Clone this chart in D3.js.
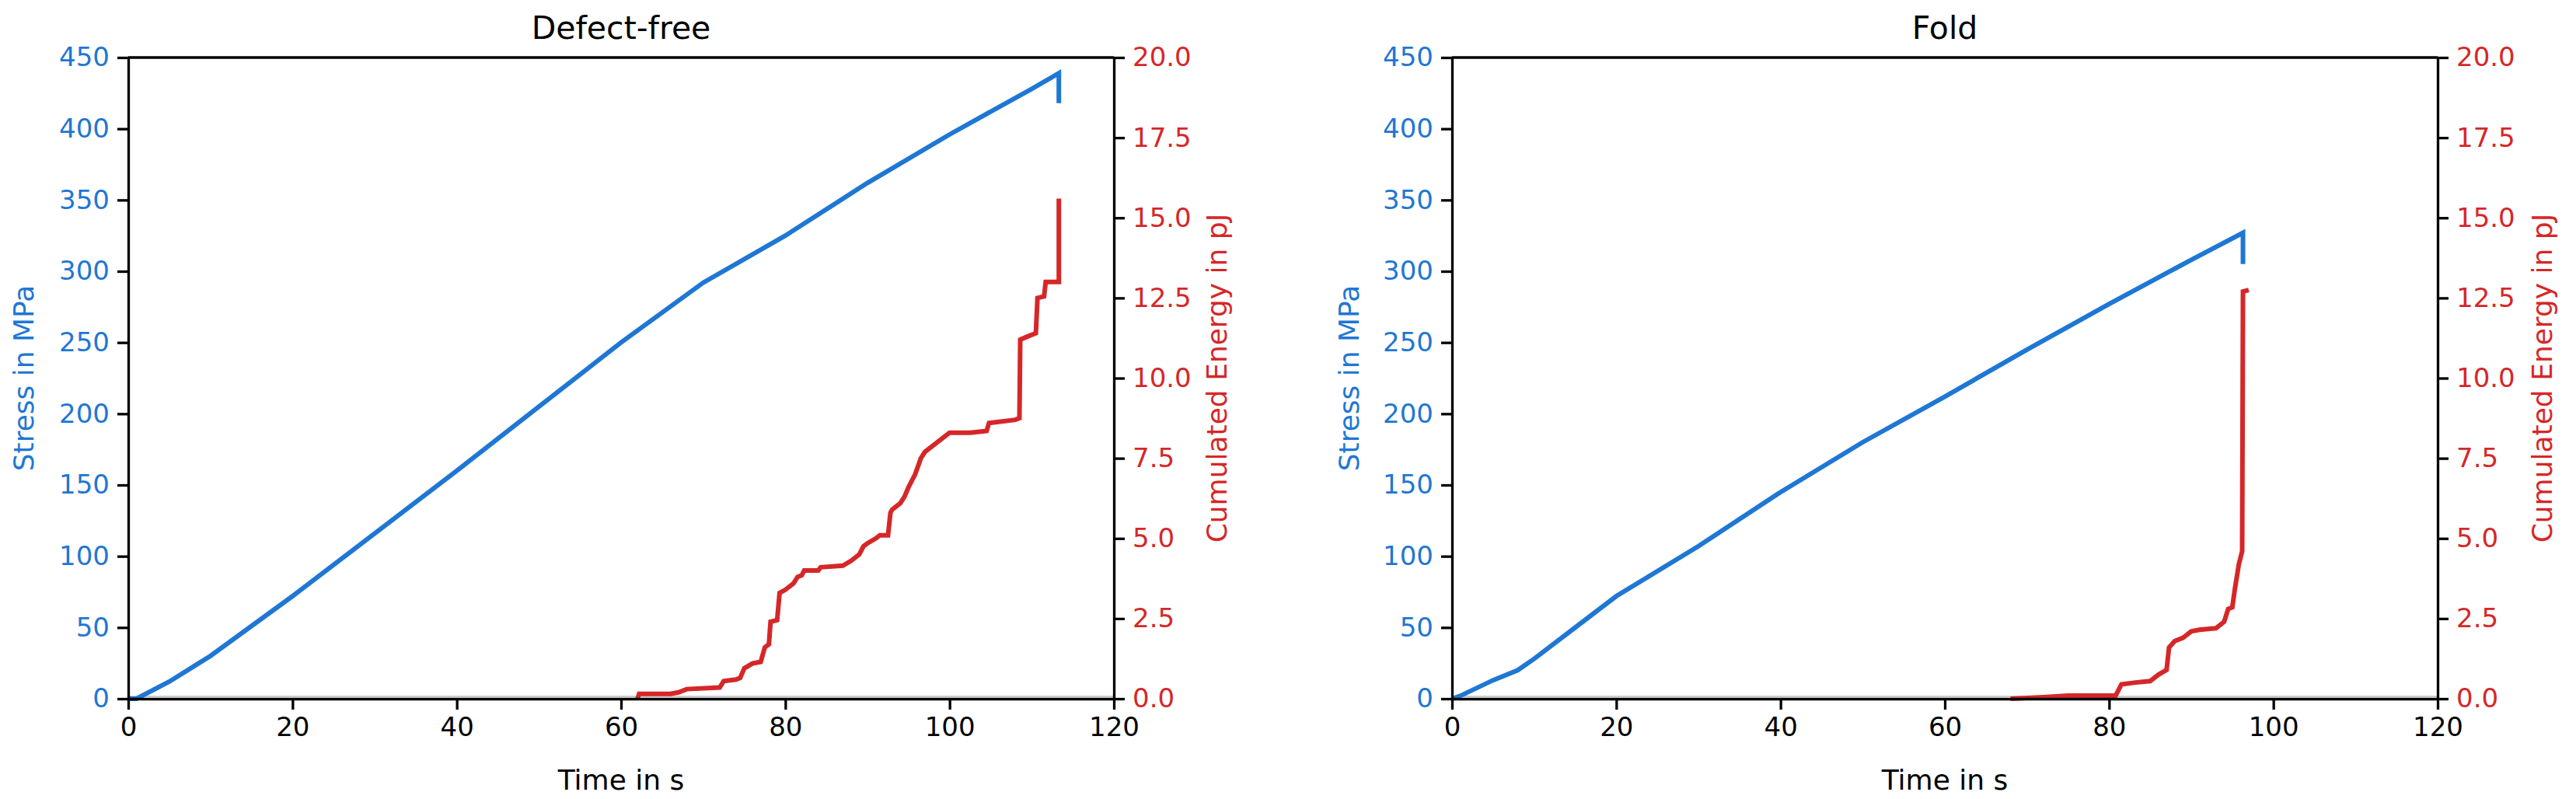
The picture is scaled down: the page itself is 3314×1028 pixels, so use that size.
<!DOCTYPE html>
<html><head><meta charset="utf-8">
<script src="https://cdn.jsdelivr.net/npm/d3@7"></script>
<style>body{margin:0;background:#fff}svg{font-family:"DejaVu Sans",sans-serif}</style>
</head><body><svg id="c" width="3314" height="1028"></svg>
<script>
const xTicks=[0,20,40,60,80,100,120];
const stressTicks=[0,50,100,150,200,250,300,350,400,450];
const energyTicks=[0,2.5,5,7.5,10,12.5,15,17.5,20];
const titles=["Defect-free","Fold"];
const stressA=[[0,0],[1,0],[5,12],[10,30],[20,72],[30,116],[40,160],[50,205],[60,250],[70,292],[80,325],[90,362],[100,396],[110,428],[113.3,439],[113.3,418]];
const stressB=[[0,0],[1,2],[5,13],[8,20],[10,28],[20,72],[30,107],[40,145],[50,180],[60,212],[70,245],[80,277],[90,308],[96.3,327],[96.3,305]];
const energyA=[[62,0],[62.2,0.15],[66,0.15],[67,0.2],[68,0.3],[72,0.35],[72.5,0.55],[74,0.6],[74.5,0.65],[75,0.95],[76,1.1],[77,1.15],[77.5,1.6],[78,1.7],[78.2,2.4],[79,2.45],[79.3,3.3],[80,3.4],[81,3.6],[81.5,3.8],[82,3.85],[82.3,4.0],[84,4.0],[84.3,4.1],[87,4.15],[88,4.3],[89,4.5],[89.5,4.75],[90,4.85],[91,5.0],[91.5,5.1],[92.5,5.1],[92.8,5.8],[93,5.9],[94,6.1],[94.5,6.3],[95,6.6],[95.8,7.0],[96.5,7.5],[97,7.7],[98,7.9],[99,8.1],[100,8.3],[102.5,8.3],[104.5,8.35],[104.8,8.6],[108,8.7],[108.5,8.75],[108.6,11.2],[109.5,11.3],[110.5,11.4],[110.7,12.5],[111.5,12.55],[111.7,13.0],[113.3,13.0],[113.3,15.6]];
const energyB=[[68,0],[72,0.05],[75,0.1],[80.8,0.1],[81.5,0.45],[83,0.5],[85,0.55],[86,0.75],[87,0.9],[87.3,1.6],[88,1.8],[89,1.9],[90,2.1],[91,2.15],[93,2.2],[94,2.4],[94.5,2.8],[95,2.85],[95.3,3.4],[95.8,4.2],[96.2,4.6],[96.3,12.7],[97,12.75]];
const panels=[{l:165,r:1433,s:stressA,e:energyA,t:titles[0],yl:30,yr:1565},{l:1868,r:3136,s:stressB,e:energyB,t:titles[1],yl:1735,yr:3270}];
const svg=d3.select("#c"),yTop=74,yBot=899,blue="#1f77d4",red="#d62728",fs=34;
panels.forEach(p=>{
  const g=svg.append("g");
  const x=d3.scaleLinear().domain([0,120]).range([p.l,p.r]);
  const ys=d3.scaleLinear().domain([0,450]).range([yBot,yTop]);
  const ye=d3.scaleLinear().domain([0,20]).range([yBot,yTop]);
  g.append("line").attr("x1",x(0)).attr("x2",x(120)).attr("y1",ys(0)-3).attr("y2",ys(0)-3).attr("stroke","#ccc").attr("stroke-width",2);
  const ls=d3.line().x(d=>x(d[0])).y(d=>ys(d[1]));
  const le=d3.line().x(d=>x(d[0])).y(d=>ye(d[1]));
  g.append("path").attr("d",ls(p.s)).attr("fill","none").attr("stroke",blue).attr("stroke-width",6);
  g.append("path").attr("d",le(p.e)).attr("fill","none").attr("stroke",red).attr("stroke-width",6);
  const style=(a,c)=>{a.selectAll("path,line").attr("stroke","#000").attr("stroke-width",3.3);a.selectAll("text").attr("fill",c).style("font-size",fs+"px").style("font-family","DejaVu Sans");};
  g.append("g").attr("transform",`translate(0,${yBot})`).call(d3.axisBottom(x).tickValues(xTicks).tickSize(14).tickPadding(10).tickSizeOuter(0)).call(a=>style(a,"#000"));
  g.append("g").attr("transform",`translate(${p.l},0)`).call(d3.axisLeft(ys).tickValues(stressTicks).tickSize(14).tickPadding(10).tickSizeOuter(0)).call(a=>style(a,blue));
  g.append("g").attr("transform",`translate(${p.r},0)`).call(d3.axisRight(ye).tickValues(energyTicks).tickFormat(d3.format(".1f")).tickSize(14).tickPadding(10).tickSizeOuter(0)).call(a=>style(a,red));
  g.append("line").attr("x1",p.l).attr("x2",p.r).attr("y1",yTop).attr("y2",yTop).attr("stroke","#000").attr("stroke-width",3.3);
  g.append("text").attr("x",(p.l+p.r)/2).attr("y",50).attr("text-anchor","middle").style("font-size","41px").text(p.t);
  g.append("text").attr("x",(p.l+p.r)/2).attr("y",1016).attr("text-anchor","middle").style("font-size","36px").text("Time in s");
  g.append("text").attr("transform",`translate(${p.yl},${(yTop+yBot)/2}) rotate(-90)`).attr("text-anchor","middle").attr("dy","0.35em").attr("fill",blue).style("font-size","36px").text("Stress in MPa");
  g.append("text").attr("transform",`translate(${p.yr},${(yTop+yBot)/2}) rotate(-90)`).attr("text-anchor","middle").attr("dy","0.35em").attr("fill",red).style("font-size","36px").text("Cumulated Energy in pJ");
});
</script></body></html>
